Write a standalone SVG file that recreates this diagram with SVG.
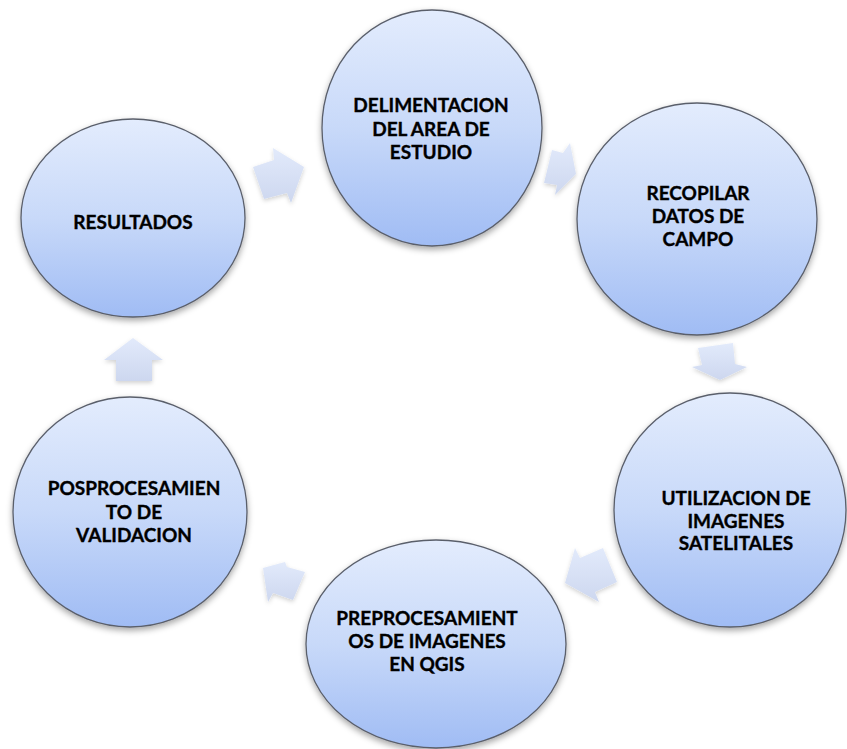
<svg xmlns="http://www.w3.org/2000/svg" width="847" height="749" viewBox="0 0 847 749">
  <defs>
    <linearGradient id="nodeFill" x1="0" y1="0" x2="0" y2="1">
      <stop offset="0" stop-color="#e3ecfd"/>
      <stop offset="0.5" stop-color="#c8d9f9"/>
      <stop offset="1" stop-color="#a0bcf4"/>
    </linearGradient>
    <linearGradient id="arrowFill" x1="0" y1="0" x2="0" y2="1">
      <stop offset="0" stop-color="#e2eafb"/>
      <stop offset="1" stop-color="#cdd7ef"/>
    </linearGradient>
    <filter id="shadow" x="-20%" y="-20%" width="140%" height="150%">
      <feDropShadow dx="0" dy="3" stdDeviation="3" flood-color="#000" flood-opacity="0.35"/>
    </filter>
    <filter id="arrowShadow" x="-30%" y="-30%" width="160%" height="170%">
      <feDropShadow dx="0" dy="2" stdDeviation="2" flood-color="#000" flood-opacity="0.18"/>
    </filter>
  </defs>
  <style>
    .node ellipse { fill: url(#nodeFill); stroke: #5a5f6b; stroke-width: 1.3; filter: url(#shadow); }
    .node text { font-family: Lato, "Open Sans", "Liberation Sans", sans-serif; font-weight: 700; font-size: 19px; fill: #000; stroke: #000; stroke-width: 0.35; text-anchor: middle; }
    .arrow { fill: url(#arrowFill); stroke: none; filter: url(#arrowShadow); }
  </style>

  <rect width="847" height="749" fill="#fff"/>

  <!-- connectors: block arrows between the steps -->
  <g id="connectors">
    <polygon class="arrow" points="253,167 274,160 273,148 304,167 291,203 287,193 264,199"/>
    <polygon class="arrow" points="552,150 563,153 570,143 576,174 555,195 557,185 544,183"/>
    <polygon class="arrow" points="698,348 733,343 735,364 747,367 720,380 692,367 702,365"/>
    <polygon class="arrow" points="575,548 580,558 603,548 617,582 595,592 599,602 565,583"/>
    <polygon class="arrow" points="263,568 285,562 287,567 305,572 293,600 273,593 268,602"/>
    <polygon class="arrow" points="133,338 163,360 152,360 152,381 116,381 116,360 104,360"/>
  </g>

  <g id="node-delimitacion" class="node">
    <ellipse cx="432" cy="128" rx="110" ry="118"/>
    <text x="431" y="112">DELIMENTACION</text>
    <text x="431" y="135.5">DEL AREA DE</text>
    <text x="431" y="159">ESTUDIO</text>
  </g>

  <g id="node-recopilar" class="node">
    <ellipse cx="697" cy="219" rx="120" ry="116"/>
    <text x="698" y="200">RECOPILAR</text>
    <text x="698" y="223">DATOS DE</text>
    <text x="698" y="246">CAMPO</text>
  </g>

  <g id="node-utilizacion" class="node">
    <ellipse cx="730" cy="510" rx="116" ry="117"/>
    <text x="736" y="505">UTILIZACION DE</text>
    <text x="736" y="528">IMAGENES</text>
    <text x="736" y="550">SATELITALES</text>
  </g>

  <g id="node-preprocesamiento" class="node">
    <ellipse cx="436" cy="644" rx="130" ry="104"/>
    <text x="427" y="625">PREPROCESAMIENT</text>
    <text x="427" y="648">OS DE IMAGENES</text>
    <text x="427" y="671">EN QGIS</text>
  </g>

  <g id="node-posprocesamiento" class="node">
    <ellipse cx="130" cy="512" rx="117" ry="115"/>
    <text x="134" y="495">POSPROCESAMIEN</text>
    <text x="134" y="518.5">TO DE</text>
    <text x="134" y="542">VALIDACION</text>
  </g>

  <g id="node-resultados" class="node">
    <ellipse cx="133" cy="218" rx="112" ry="99"/>
    <text x="133" y="228.5">RESULTADOS</text>
  </g>
</svg>
